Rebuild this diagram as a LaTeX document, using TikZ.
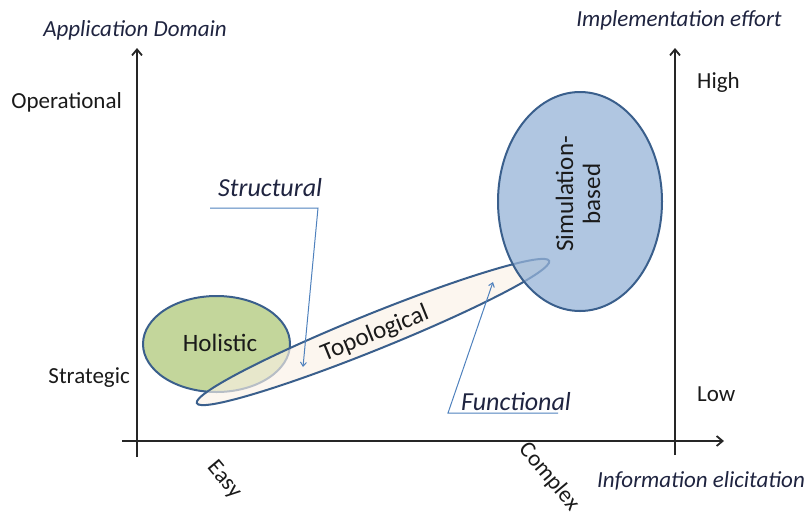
\documentclass[tikz,border=0pt]{standalone}
\usepackage{fontspec}
\setmainfont{Carlito}
\usetikzlibrary{shapes.geometric,arrows.meta}
\definecolor{txt}{HTML}{1A1A1A}
\definecolor{ital}{HTML}{1F2440}
\definecolor{edge}{HTML}{3A5F8C}
\definecolor{hgreen}{HTML}{C3D69B}
\definecolor{peach}{HTML}{FBF1E6}
\definecolor{simblue}{HTML}{95B3D7}
\definecolor{callout}{HTML}{4F81BD}
\begin{document}
\begin{tikzpicture}[x=1pt,y=-1pt,
  axis/.style={line width=1.8pt, draw=black!85, -{Straight Barb[length=6pt,width=10pt]}},
  lab/.style={font=\fontsize{23}{26}\selectfont, text=txt, inner sep=0pt},
  ilab/.style={font=\fontsize{23}{26}\selectfont\itshape, text=ital, inner sep=0pt},
  clab/.style={font=\fontsize{26}{30}\selectfont\itshape, text=ital, inner sep=0pt},
  blab/.style={font=\fontsize{25}{27}\selectfont, text=txt, inner sep=0pt},
  blob/.style={ellipse, draw=edge, line width=2pt, inner sep=0pt},
  co/.style={draw=callout, line width=1pt, -{Straight Barb[length=4pt,width=6pt]}}]
\useasboundingbox (0,0) rectangle (808,515);
% axes
\coordinate (yb) at (137,457); \coordinate (yt) at (137,48);
\coordinate (xl) at (122,441); \coordinate (xr) at (724,441);
\coordinate (rb) at (675,455); \coordinate (rt) at (675,48);
\draw[axis] (yb) -- (yt);
\draw[axis] (xl) -- (xr);
\draw[axis] (rb) -- (rt);
% axis labels
\node[ilab] (appdom) at (135,30) {Application Domain};
\node[lab, anchor=east] (oper) at (122,102) {Operational};
\node[lab, anchor=east] (strat) at (130,378) {Strategic};
\node[ilab] (impl) at (679,20) {Implementation effort};
\node[lab, anchor=west] (high) at (697,82) {High};
\node[lab, anchor=west] (low) at (697,394) {Low};
\node[ilab] (info) at (701,481) {Information elicitation};
\node[lab, rotate=-50] (easy) at (224,480) {Easy};
\node[lab, rotate=-50] (complex) at (549,477) {Complex};
% ellipses
\node[blob, fill=hgreen, minimum width=147pt, minimum height=96pt] (hol) at (216.5,344) {};
\node[blob, fill=peach, fill opacity=0.65, minimum width=380pt, minimum height=36pt, rotate=22] (topo) at (373,332) {};
\node[blob, fill=simblue, fill opacity=0.75, minimum width=164pt, minimum height=219pt] (sim) at (580,201.5) {};
\node[blab] (holt) at (220,343) {Holistic};
\node[blab, rotate=22] (topt) at (375,334) {Topological};
\node[blab, rotate=90, align=center] (simt) at (578,194) {Simulation-\\based};
% callouts
\node[clab, anchor=west] (struct) at (218,188) {Structural};
\coordinate (s1) at (210,208); \coordinate (s2) at (318,208); \coordinate (s3) at (303,367);
\draw[co] (s1) -- (s2) -- (s3);
\node[clab, anchor=west] (func) at (461,402) {Functional};
\coordinate (f1) at (558,413); \coordinate (f2) at (448,413); \coordinate (f3) at (493,282);
\draw[co] (f1) -- (f2) -- (f3);
\end{tikzpicture}
\end{document}
